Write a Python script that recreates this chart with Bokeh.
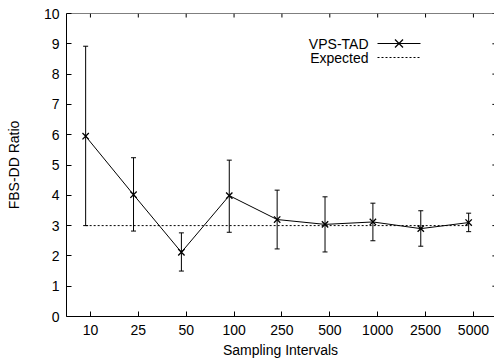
import math
from bokeh.plotting import figure
from bokeh.models import (ColumnDataSource, Range1d, FixedTicker, Span,
                          Whisker, TeeHead, Label, Arrow)
from bokeh.transform import dodge
from bokeh.embed import file_html
from bokeh.resources import INLINE

# ---- data ----
intervals = ["10", "25", "50", "100", "250", "500", "1000", "2500", "5000"]
vps_tad = [5.95, 4.02, 2.12, 3.99, 3.20, 3.04, 3.12, 2.90, 3.10]
vps_tad_upper = [8.92, 5.24, 2.76, 5.16, 4.17, 3.95, 3.74, 3.49, 3.41]
vps_tad_lower = [3.00, 2.82, 1.50, 2.78, 2.23, 2.13, 2.50, 2.32, 2.80]
expected = [3, 3, 3, 3, 3, 3, 3, 3, 3]
y_ticks = [0, 1, 2, 3, 4, 5, 6, 7, 8, 9, 10]
series_names = ["VPS-TAD", "Expected"]

FONT = "Liberation Sans"
FS = "14px"
DASH = "2 2"

slot = [i + 0.5 for i in range(len(intervals))]
y_min, y_max = y_ticks[0], y_ticks[-1]

p = figure(width=494, height=364, output_backend="svg", toolbar_location=None,
           x_range=Range1d(0, len(intervals) - 0.06), y_range=Range1d(y_min, y_max),
           min_border_left=66, min_border_right=0, min_border_top=13,
           min_border_bottom=48, background_fill_color="white",
           border_fill_color="white")
p.outline_line_color = None
p.grid.visible = False

xa = p.xaxis[0]
xa.ticker = FixedTicker(ticks=slot)
xa.major_label_overrides = {s: lab for s, lab in zip(slot, intervals)}
xa.axis_label = "Sampling Intervals"
ya = p.yaxis[0]
ya.ticker = FixedTicker(ticks=y_ticks)
ya.axis_label = "FBS-DD Ratio"
for ax in (xa, ya):
    ax.major_tick_in = 5
    ax.major_tick_out = 0
    ax.minor_tick_line_color = None
    ax.axis_line_color = "black"
    ax.major_tick_line_color = "black"
    ax.major_label_text_font = FONT
    ax.major_label_text_font_size = FS
    ax.major_label_text_color = "black"
    ax.axis_label_text_font = FONT
    ax.axis_label_text_font_size = FS
    ax.axis_label_text_font_style = "normal"
    ax.axis_label_text_color = "black"
xa.major_label_standoff = 8
xa.axis_label_standoff = 4
ya.major_label_standoff = 7
ya.axis_label_standoff = 19

# mirrored border (top line) and mirrored inward ticks (top and right)
p.add_layout(Span(location=y_max, dimension="width", line_color="black", line_width=1))
p.ray(x=slot, y=[y_max] * len(slot), length=4, length_units="screen",
      angle=-math.pi / 2, line_color="black", line_width=1)
p.ray(x=[len(intervals)] * len(y_ticks), y=y_ticks, length=5, length_units="screen",
      angle=math.pi, line_color="black", line_width=1)

src = ColumnDataSource(dict(slot=slot, y=vps_tad, upper=vps_tad_upper,
                            lower=vps_tad_lower, expected=expected))
xd = dodge("slot", -0.1, range=p.x_range)

p.line(x=xd, y="expected", source=src, line_color="black",
       line_width=1, line_dash=DASH)

wh = Whisker(source=src, base=xd, upper="upper", lower="lower",
             dimension="height", line_color="black", line_width=1,
             upper_head=TeeHead(size=5, line_color="black", line_width=1),
             lower_head=TeeHead(size=5, line_color="black", line_width=1))
p.add_layout(wh)

p.line(x=xd, y="y", source=src, line_color="black", line_width=1)
p.scatter(x=xd, y="y", source=src, marker="x", size=9,
          line_color="black", line_width=1.3)

# gnuplot-style key (screen units relative to the frame): text right-aligned,
# sample drawn to its right
KEY_TEXT_X, KEY_X0, KEY_X1 = 302, 311, 354
KEY_ROWS = [273, 259]
KEY_MARK = 4


def seg(x0, y0, x1, y1, dash="solid", width=1):
    p.add_layout(Arrow(end=None, x_start=x0, y_start=y0, x_end=x1, y_end=y1,
                       start_units="screen", end_units="screen",
                       line_color="black", line_width=width, line_dash=dash))


for name, ky in zip(series_names, KEY_ROWS):
    p.add_layout(Label(x=KEY_TEXT_X, y=ky, x_units="screen", y_units="screen",
                       text=name, text_align="right", text_baseline="middle",
                       text_font=FONT, text_font_size=FS, text_color="black"))
xm = (KEY_X0 + KEY_X1) / 2
seg(KEY_X0, KEY_ROWS[0], KEY_X1, KEY_ROWS[0])
seg(xm - KEY_MARK, KEY_ROWS[0] - KEY_MARK, xm + KEY_MARK, KEY_ROWS[0] + KEY_MARK, width=1.3)
seg(xm - KEY_MARK, KEY_ROWS[0] + KEY_MARK, xm + KEY_MARK, KEY_ROWS[0] - KEY_MARK, width=1.3)
seg(KEY_X0, KEY_ROWS[1], KEY_X1, KEY_ROWS[1], dash=DASH)

open("out.html", "w").write(file_html(p, INLINE))
